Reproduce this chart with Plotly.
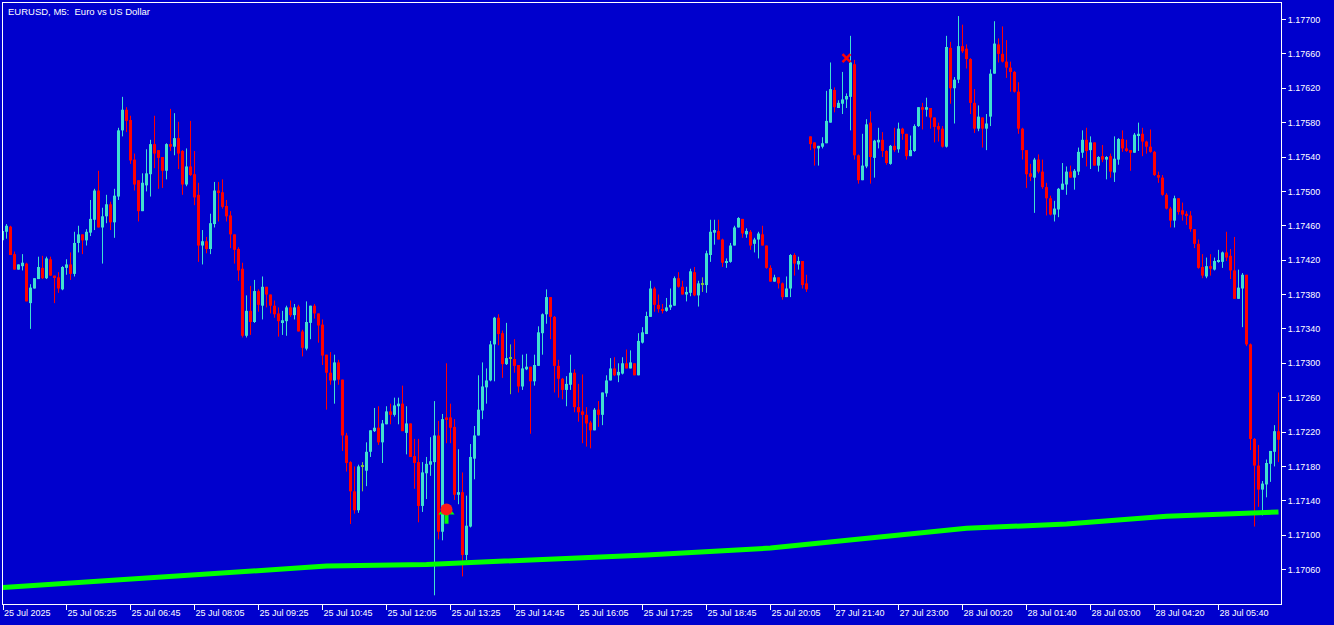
import numpy as np
import plotly.graph_objects as go

# ---------------- data (prices in points: price = 1.17000 + pts * 0.00001) -------------
BASE = 1.17000
PT = 0.00001

OPEN_PTS = [443,453,459,427,409,413,416,370,387,398,411,399,421,402,400,386,411,415,404,440,
            450,443,452,467,501,458,471,485,464,494,571,595,583,537,513,477,507,520,555,548,
            540,524,555,552,562,547,508,529,520,496,437,442,433,462,501,499,483,472,450,433,
            410,332,361,348,384,367,389,380,367,358,348,349,365,356,366,337,317,347,367,358,
            345,310,289,280,301,281,216,185,151,129,180,175,197,221,225,208,229,244,240,250,
            253,219,230,192,185,134,172,182,185,216,104,237,237,226,147,150,77,110,189,216,
            245,272,280,322,353,335,299,306,305,298,273,293,296,279,297,335,357,377,354,297,
            282,269,275,289,249,244,240,231,222,246,240,265,280,294,286,288,300,294,300,286,
            324,334,354,387,368,363,361,365,367,399,389,380,382,406,379,392,391,426,452,454,
            444,417,418,437,458,468,450,453,439,444,450,437,411,395,400,393,377,387,426,415,
            419,393,564,557,550,552,556,580,618,597,602,607,610,648,542,513,529,580,539,557,
            560,547,532,553,549,573,567,541,547,576,598,595,597,586,576,573,552,667,620,630,
            669,666,654,603,573,586,573,587,637,671,660,651,644,639,616,573,548,521,516,537,
            523,505,492,473,479,502,508,523,516,523,545,560,548,557,530,541,537,541,522,537,
            561,550,548,545,565,567,558,552,546,519,516,496,480,466,492,478,474,472,456,439,
            412,401,413,409,418,418,429,425,408,375,387,403,322,212,181,153,159,183,197,221]
HIGH_PTS = [455,462,460,430,415,427,417,392,399,424,425,424,424,402,406,413,421,429,453,460,
            450,456,490,503,524,481,496,488,503,574,610,598,588,544,513,521,549,560,588,548,
            540,556,596,591,581,548,550,582,547,510,455,447,474,511,511,514,490,477,450,435,
            417,379,390,397,386,401,389,380,373,365,361,367,373,369,368,339,372,367,369,358,
            351,310,313,310,304,281,219,186,180,182,185,208,222,248,250,234,250,253,260,260,
            274,250,230,212,212,185,191,214,256,233,241,300,253,235,200,173,146,206,227,286,
            301,294,326,354,357,338,347,322,328,298,310,311,296,310,343,358,386,377,355,304,
            283,285,310,293,276,287,249,233,248,256,266,286,306,307,300,307,316,315,300,335,
            342,360,396,389,380,369,376,387,401,406,396,389,410,412,396,400,431,467,467,467,
            445,422,440,460,470,468,457,455,446,453,460,437,414,403,400,394,401,427,428,424,
            419,403,564,557,553,563,617,650,621,606,639,614,681,653,543,567,584,593,560,574,
            569,548,554,574,580,574,567,565,578,598,603,609,597,586,580,576,681,674,633,704,
            694,671,655,619,600,586,590,642,698,678,692,676,651,640,627,574,548,532,539,543,
            537,510,495,489,504,533,529,530,526,551,571,574,564,557,541,554,541,544,564,562,
            571,560,548,568,580,574,559,572,547,523,519,498,482,495,492,487,477,477,456,444,
            427,423,427,423,432,430,453,433,447,409,405,403,323,213,205,163,188,198,228,266]
LOW_PTS = [442,445,426,409,409,408,372,340,387,398,398,398,402,370,382,385,403,397,401,429,
           427,437,448,455,458,416,463,455,446,490,564,569,532,501,465,477,500,494,527,503,
           504,514,547,542,526,496,506,518,484,418,415,428,427,458,465,480,465,434,416,396,
           330,330,333,347,360,351,365,358,353,331,333,332,354,351,337,308,315,328,352,324,
           298,246,275,253,275,198,174,113,125,126,151,157,191,220,205,184,229,229,238,229,
           221,194,191,154,115,127,142,169,30,95,94,207,207,141,136,52,71,109,165,216,
           235,253,279,279,321,283,298,264,289,266,269,292,218,274,297,310,346,328,266,260,
           258,250,269,243,232,207,203,201,222,226,228,261,280,285,278,287,294,294,286,286,
           323,334,354,360,359,358,360,362,367,388,380,372,378,378,366,383,382,418,438,444,
           412,411,417,437,458,446,446,432,429,422,437,410,395,395,387,374,377,377,402,409,
           387,383,548,530,530,550,556,580,592,597,590,597,571,537,509,513,527,509,516,550,
           540,531,531,546,545,560,537,541,546,575,572,587,573,557,558,551,551,602,579,626,
           661,643,590,568,570,551,548,576,637,650,650,632,616,615,567,537,504,512,475,521,
           503,472,472,465,470,502,496,516,502,519,539,529,526,530,523,534,514,516,511,531,
           546,546,524,545,547,541,544,545,518,510,495,479,458,458,473,466,461,453,434,410,
           399,399,402,408,417,411,419,398,375,375,342,320,199,110,133,123,144,162,180,185]
CLOSE_PTS = [454,460,426,409,415,417,372,388,399,412,399,422,402,400,387,412,415,404,440,450,
             443,453,468,501,458,471,485,464,495,571,595,582,536,508,477,510,521,555,544,539,
             524,555,552,562,544,508,529,519,493,437,442,433,463,501,499,482,471,450,432,408,
             332,361,348,384,368,389,380,367,357,349,350,365,356,365,337,318,348,367,358,344,
             309,289,280,301,281,216,184,151,129,180,180,197,222,225,208,230,244,240,251,253,
             221,230,191,184,134,173,183,186,216,104,235,235,225,147,150,77,111,191,216,246,
             273,280,322,353,334,299,306,306,297,273,294,296,279,298,336,357,377,354,297,282,
             269,276,289,249,243,240,230,222,246,240,266,280,294,286,290,300,294,301,286,326,
             336,355,387,368,363,361,365,368,399,389,380,383,407,379,393,392,428,453,455,444,
             417,419,437,458,469,451,454,437,444,451,437,411,395,400,393,377,387,426,416,419,
             391,386,555,550,553,556,582,619,598,603,607,611,650,542,513,530,578,540,559,560,
             547,533,553,548,573,567,541,548,576,598,595,598,586,575,572,552,668,620,630,669,
             663,654,603,573,587,573,579,637,672,660,651,644,639,616,573,548,520,517,537,523,
             505,492,473,480,503,509,523,516,524,546,560,547,557,530,540,537,540,523,538,561,
             550,547,545,566,567,558,552,546,519,516,496,480,466,492,476,473,472,456,439,411,
             402,413,410,419,419,429,423,408,375,388,403,322,212,181,153,160,184,198,221,211]

# moving average read at a few candles (index, pts)
MA_IDX = [0, 81, 106, 122, 141, 161, 192, 241, 266, 291, 319]
MA_PTS = [39, 64, 66, 69, 72, 77, 85, 108, 113, 122, 127]

# signals
SIGNAL_DOT = {"idx": [111], "pts": [130]}
SIGNAL_ARROW_HEAD = {"idx": [111], "pts": [128]}
SIGNAL_ARROW_STEM = {"idx": [111], "pts": [119]}
SIGNAL_CROSS = {"idx": [211], "pts": [655]}

TICK_IDX = [0, 16, 32, 48, 64, 80, 96, 112, 128, 144, 160, 176, 192, 208, 224, 240, 256, 272, 288, 304]
TICK_TEXT = ["25 Jul 2025", "25 Jul 05:25", "25 Jul 06:45", "25 Jul 08:05", "25 Jul 09:25",
             "25 Jul 10:45", "25 Jul 12:05", "25 Jul 13:25", "25 Jul 14:45", "25 Jul 16:05",
             "25 Jul 17:25", "25 Jul 18:45", "25 Jul 20:05", "27 Jul 21:40", "27 Jul 23:00",
             "28 Jul 00:20", "28 Jul 01:40", "28 Jul 03:00", "28 Jul 04:20", "28 Jul 05:40"]
Y_TICKS = [1.17060, 1.17100, 1.17140, 1.17180, 1.17220, 1.17260, 1.17300, 1.17340, 1.17380,
           1.17420, 1.17460, 1.17500, 1.17540, 1.17580, 1.17620, 1.17660, 1.17700]
TITLE = "EURUSD, M5:\u00a0 Euro vs US Dollar"

# ---------------- styling -------------
BG = "#0000CD"
UP = "#40E0D0"
DOWN = "#FF0000"
DOJI = "#7FBF3F"
FG = "white"
FONT = "Liberation Sans"

o = BASE + np.array(OPEN_PTS) * PT
h = BASE + np.array(HIGH_PTS) * PT
l = BASE + np.array(LOW_PTS) * PT
c = BASE + np.array(CLOSE_PTS) * PT
idx = np.arange(len(o))

col = np.where(c > o, UP, np.where(c < o, DOWN, DOJI))

fig = go.Figure()

# wicks
for colour in (UP, DOWN, DOJI):
    sel = idx[col == colour]
    xs, ys = [], []
    for i in sel:
        xs += [i, i, None]
        ys += [l[i], h[i], None]
    if xs:
        fig.add_trace(go.Scatter(x=xs, y=ys, mode="lines", line=dict(color=colour, width=1),
                                 hoverinfo="skip"))

# bodies
body_base = np.minimum(o, c)
body_h = np.maximum(np.abs(c - o), 1.2 * PT)
fig.add_trace(go.Bar(x=idx, y=body_h, base=body_base, width=0.75,
                     marker=dict(color=list(col), line=dict(width=0)),
                     customdata=np.stack([o, h, l, c], axis=1),
                     hovertemplate="O %{customdata[0]:.5f}<br>H %{customdata[1]:.5f}<br>"
                                   "L %{customdata[2]:.5f}<br>C %{customdata[3]:.5f}<extra></extra>"))

# moving average
fig.add_trace(go.Scatter(x=MA_IDX, y=BASE + np.array(MA_PTS) * PT, mode="lines",
                         line=dict(color="#00FF00", width=5), hoverinfo="skip"))

# signals
fig.add_trace(go.Scatter(x=SIGNAL_ARROW_HEAD["idx"], y=BASE + np.array(SIGNAL_ARROW_HEAD["pts"]) * PT,
                         mode="markers", marker=dict(symbol="triangle-up", size=14, color="#00FF00",
                                                     line=dict(width=0)), hoverinfo="skip"))
fig.add_trace(go.Scatter(x=SIGNAL_ARROW_STEM["idx"], y=BASE + np.array(SIGNAL_ARROW_STEM["pts"]) * PT,
                         mode="markers", marker=dict(symbol="line-ns", size=7,
                                                     line=dict(width=4, color="#00FF00")), hoverinfo="skip"))
fig.add_trace(go.Scatter(x=SIGNAL_DOT["idx"], y=BASE + np.array(SIGNAL_DOT["pts"]) * PT,
                         mode="markers", marker=dict(symbol="circle", size=12, color="#FF1A1A",
                                                     line=dict(width=0)), hoverinfo="skip"))
fig.add_trace(go.Scatter(x=SIGNAL_CROSS["idx"], y=BASE + np.array(SIGNAL_CROSS["pts"]) * PT,
                         mode="markers", marker=dict(symbol="x-thin", size=8,
                                                     line=dict(width=2.5, color="#FF0000")), hoverinfo="skip"))

x_lo, x_hi = 0.125, 319.625
tickvals = [max(v, x_lo + 0.01) for v in TICK_IDX]

fig.update_layout(
    width=1334, height=625,
    margin=dict(l=3, r=53, t=3, b=21, pad=0),
    paper_bgcolor=BG, plot_bgcolor=BG,
    showlegend=False, barmode="overlay",
    font=dict(family=FONT, size=9, color=FG),
    xaxis=dict(range=[x_lo, x_hi], showgrid=False, zeroline=False,
               showline=True, linecolor=FG, linewidth=1, mirror=True,
               ticks="outside", ticklen=5, tickwidth=1, tickcolor=FG,
               tickvals=tickvals, ticktext=TICK_TEXT, ticklabelposition="outside right",
               tickfont=dict(family=FONT, size=9, color=FG)),
    yaxis=dict(side="right", range=[BASE + 19.9 * PT, BASE + 719.2 * PT],
               showgrid=False, zeroline=False,
               showline=True, linecolor=FG, linewidth=1, mirror=True,
               ticks="outside", ticklen=4, tickwidth=1, tickcolor=FG,
               tickvals=Y_TICKS, ticktext=[f"{v:.5f}" for v in Y_TICKS],
               tickfont=dict(family=FONT, size=9, color=FG)),
    annotations=[dict(text=TITLE, xref="paper", yref="paper", x=0, y=1,
                      xanchor="left", yanchor="top", xshift=3, yshift=-1, showarrow=False,
                      font=dict(family=FONT, size=9.5, color=FG))],
)

fig.write_html("out.html", config={"displayModeBar": False},
               post_script="document.body.style.margin='0';document.body.style.overflow='hidden';")
